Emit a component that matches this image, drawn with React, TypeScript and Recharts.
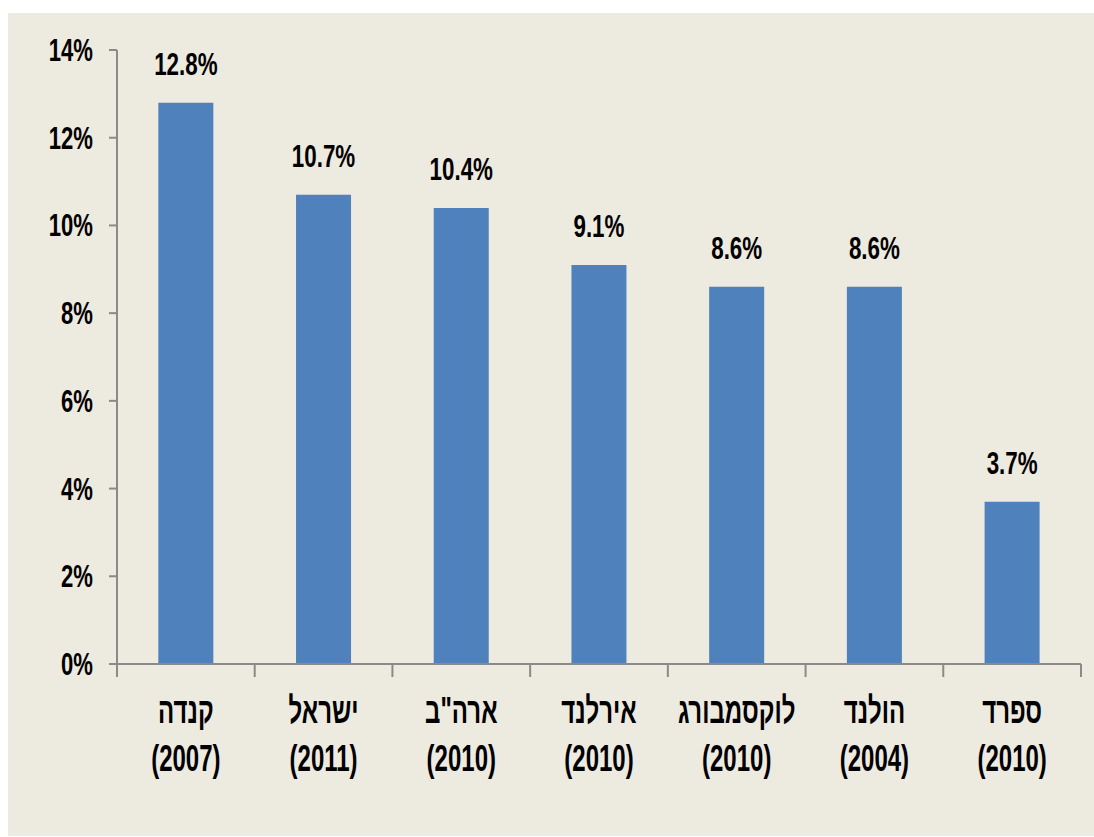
import { Bar, BarChart, LabelList, XAxis, YAxis } from "recharts";

const countries = ["קנדה", "ישראל", "ארה\"ב", "אירלנד", "לוקסמבורג", "הולנד", "ספרד"];
const years = ["(2007)", "(2011)", "(2010)", "(2010)", "(2010)", "(2004)", "(2010)"];
const shares = [12.8, 10.7, 10.4, 9.1, 8.6, 8.6, 3.7];
const yTicks = [0, 2, 4, 6, 8, 10, 12, 14];

const BG = "#EDEAE0";
const BAR = "#4F81BD";
const AXIS = "#8A8A8A";
const FONT = "'Liberation Sans', Arial, sans-serif";

const data = countries.map((name, i) => ({
  name,
  year: years[i],
  value: shares[i],
}));

// narrow + tall bold text, to mimic the condensed face of the original
function NarrowText({
  x,
  y,
  size,
  sx,
  sy,
  anchor = "middle",
  children,
}: {
  x: number;
  y: number;
  size: number;
  sx: number;
  sy: number;
  anchor?: "start" | "middle" | "end";
  children: any;
}) {
  return (
    <text
      transform={`translate(${x},${y}) scale(${sx},${sy})`}
      x={0}
      y={0}
      textAnchor={anchor}
      fontFamily={FONT}
      fontWeight="bold"
      fontSize={size}
      fill="#000"
    >
      {children}
    </text>
  );
}

function CategoryTick(props: any) {
  const { x, y, payload, index } = props;
  const half = payload?.offset ?? 964 / 7 / 2;
  const row = data[index] ?? data.find((d) => d.name === payload.value);
  return (
    <g>
      <line x1={x + half} x2={x + half} y1={y} y2={y + 13} stroke={AXIS} strokeWidth={2} />
      {index === 0 && (
        <line x1={x - half} x2={x - half} y1={y} y2={y + 13} stroke={AXIS} strokeWidth={2} />
      )}
      <NarrowText x={x} y={y + 59} size={30} sx={0.8} sy={1.22}>
        {payload.value}
      </NarrowText>
      <NarrowText x={x} y={y + 107} size={30} sx={0.8} sy={1.22}>
        {row?.year}
      </NarrowText>
    </g>
  );
}

function PctTick(props: any) {
  const { x, y, payload } = props;
  return (
    <NarrowText x={x} y={y + 11} size={26} sx={0.85} sy={1.18} anchor="end">
      {`${payload.value}%`}
    </NarrowText>
  );
}

function ValueLabel(props: any) {
  const { x, y, width, value } = props;
  return (
    <NarrowText x={Number(x) + Number(width) / 2} y={Number(y) - 28} size={26} sx={0.86} sy={1.18}>
      {`${Number(value).toFixed(1)}%`}
    </NarrowText>
  );
}

export default function App() {
  return (
    <div
      style={{
        position: "absolute",
        left: 8,
        top: 13,
        width: 1086,
        height: 823,
        background: BG,
      }}
    >
      <BarChart
        width={1086}
        height={823}
        data={data}
        margin={{ top: 37, right: 13, left: 0, bottom: 0 }}
        barCategoryGap="30%"
      >
        <XAxis
          dataKey="name"
          height={172}
          interval={0}
          tickLine={false}
          tickSize={0}
          tickMargin={0}
          axisLine={{ stroke: AXIS, strokeWidth: 2 }}
          tick={<CategoryTick />}
        />
        <YAxis
          width={109}
          domain={[0, 14]}
          ticks={yTicks}
          tickSize={8}
          tickMargin={16}
          axisLine={{ stroke: AXIS, strokeWidth: 2 }}
          tickLine={{ stroke: AXIS, strokeWidth: 2 }}
          tick={<PctTick />}
        />
        <Bar dataKey="value" fill={BAR} isAnimationActive={false}>
          <LabelList dataKey="value" content={<ValueLabel />} />
        </Bar>
      </BarChart>
    </div>
  );
}
